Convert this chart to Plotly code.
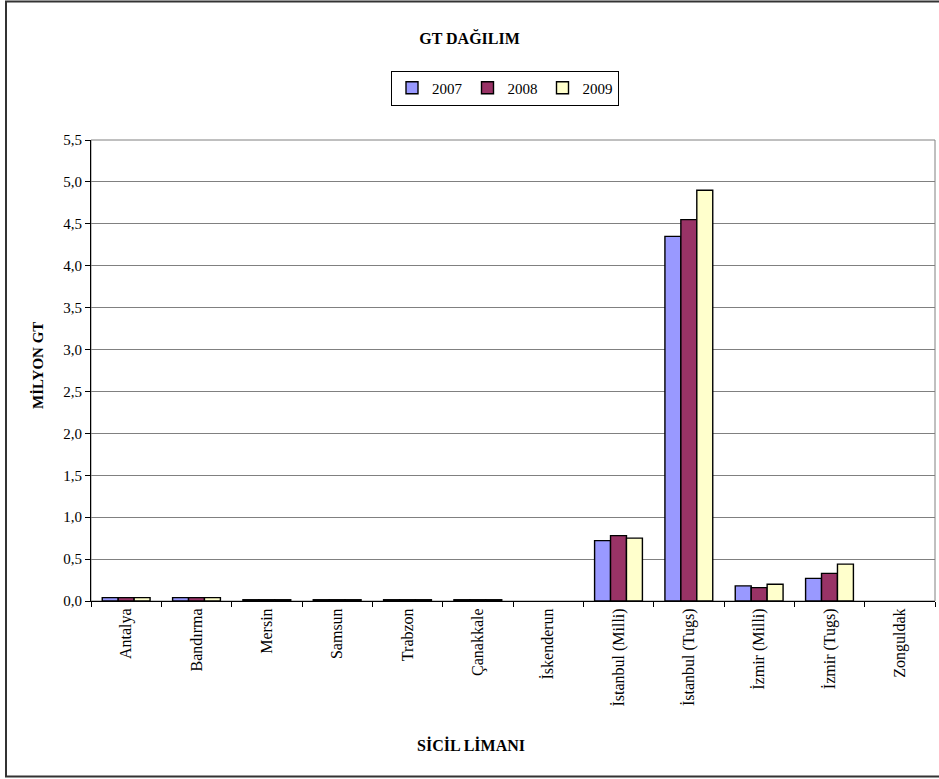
import plotly.graph_objects as go

# Registry ports and gross tonnage (million GT) per year
ports = ["Antalya", "Bandırma", "Mersin", "Samsun", "Trabzon", "Çanakkale",
         "İskenderun", "İstanbul (Milli)", "İstanbul (Tugs)", "İzmir (Milli)",
         "İzmir (Tugs)", "Zonguldak"]
years = ["2007", "2008", "2009"]
gt_2007 = [0.04, 0.04, 0.015, 0.015, 0.015, 0.015, 0.0, 0.72, 4.35, 0.18, 0.27, 0.0]
gt_2008 = [0.04, 0.04, 0.015, 0.015, 0.015, 0.015, 0.0, 0.78, 4.55, 0.16, 0.33, 0.0]
gt_2009 = [0.04, 0.04, 0.015, 0.015, 0.015, 0.015, 0.0, 0.75, 4.90, 0.20, 0.44, 0.0]
y_ticks = [0.0, 0.5, 1.0, 1.5, 2.0, 2.5, 3.0, 3.5, 4.0, 4.5, 5.0, 5.5]

series = [gt_2007, gt_2008, gt_2009]
colors = ["#9999FF", "#993366", "#FFFFCC"]
FONT = "Liberation Serif, Times New Roman, serif"

fig = go.Figure()
for name, vals, col in zip(years, series, colors):
    # empty ports get no outline so nothing is drawn on the baseline
    widths = [1.4 if v > 0 else 0 for v in vals]
    fig.add_trace(go.Bar(
        x=ports, y=vals, name=name,
        marker=dict(color=col, line=dict(color="black", width=widths)),
    ))

W, H = 939, 779
ml, mr, mt, mb = 91, 4, 140, 178
pw, ph = W - ml - mr, H - mt - mb

def px_x(x):
    return (x - ml) / pw

def px_y(y):
    return (H - mb - y) / ph

fig.update_layout(
    width=W, height=H,
    margin=dict(l=ml, r=mr, t=mt, b=mb),
    paper_bgcolor="white", plot_bgcolor="white",
    separators=", ",
    barmode="group", bargap=0.32, bargroupgap=0,
    font=dict(family=FONT, size=14, color="black"),
    title=dict(text="<b>GT DAĞILIM</b>", x=0.5, xanchor="center",
               y=1 - 38 / H, yanchor="middle",
               font=dict(family=FONT, size=16, color="black")),
    legend=dict(orientation="h", x=px_x(505), xanchor="center",
                y=px_y(88), yanchor="middle",
                bordercolor="black", borderwidth=1,
                font=dict(family=FONT, size=15), itemwidth=30,
                traceorder="normal"),
    xaxis=dict(
        showline=True, linecolor="black", linewidth=1,
        ticks="outside", ticklen=5, tickcolor="black", tickson="boundaries",
        tickangle=-90, showgrid=False,
        tickfont=dict(family=FONT, size=16),
    ),
    yaxis=dict(
        range=[0, 5.5], tickvals=y_ticks, tickformat=".1f",
        showline=True, linecolor="black", linewidth=1,
        ticks="outside", ticklen=5, tickcolor="black",
        showgrid=True, gridcolor="#808080", gridwidth=1,
        zeroline=False,
        tickfont=dict(family=FONT, size=15),
    ),
    annotations=[
        dict(text="<b>SİCİL LİMANI</b>", xref="paper", yref="paper",
             x=px_x(471), y=px_y(745), xanchor="center", yanchor="middle",
             showarrow=False, font=dict(family=FONT, size=16)),
        dict(text="<b>MİLYON GT</b>", xref="paper", yref="paper",
             x=px_x(38), y=px_y(366), xanchor="center", yanchor="middle",
             textangle=-90, showarrow=False, font=dict(family=FONT, size=15)),
    ],
    shapes=[
        # plot-area border
        dict(type="rect", xref="paper", yref="paper", x0=0, x1=1, y0=0, y1=1,
             line=dict(color="#808080", width=1), layer="below"),
        # chart frame
        dict(type="rect", xref="paper", yref="paper",
             x0=px_x(6), x1=px_x(945), y0=px_y(776.5), y1=px_y(1.5),
             line=dict(color="#333333", width=2)),
    ],
)

fig.write_html("out.html")
